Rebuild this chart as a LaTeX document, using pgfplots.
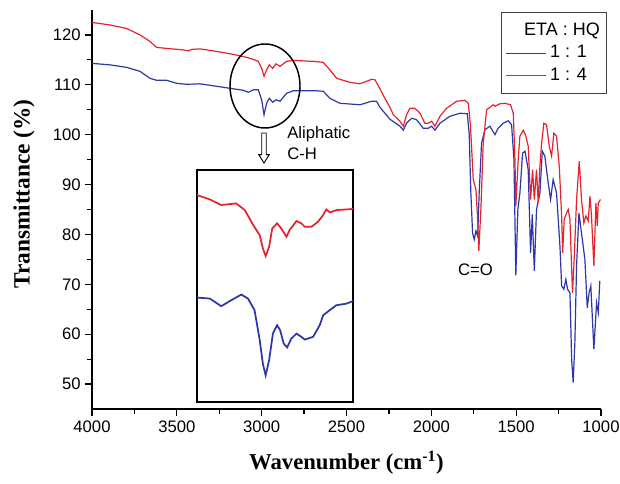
\documentclass[border=0pt]{standalone}
\usepackage{fontspec}
\setmainfont{Liberation Sans}
\newfontfamily\tnr{Liberation Serif}
\usepackage{pgfplots}
\pgfplotsset{compat=1.18}
\definecolor{cblue}{RGB}{45,55,170}
\definecolor{cred}{RGB}{230,35,45}

\pgfplotstableread{
wn T
4000 122.5
3894 122.0
3796 121.3
3717 120.0
3658 118.7
3619 117.5
3560 117.3
3462 117.0
3432 116.8
3413 117.1
3364 117.2
3265 116.7
3167 116.1
3088 115.5
3050 115.1
3020 114.7
3000 113.3
2986 111.7
2971 113.0
2955 114.0
2935 113.3
2916 114.2
2892 113.7
2853 114.7
2814 114.9
2696 114.7
2637 114.5
2598 113.0
2558 111.3
2480 110.5
2421 110.2
2352 111.1
2332 111.0
2303 109.2
2274 107.3
2244 105.5
2224 104.0
2185 102.7
2165 101.7
2146 104.0
2126 105.3
2097 105.3
2067 104.3
2038 102.3
2018 102.3
1998 102.7
1979 101.7
1949 103.7
1910 105.3
1851 106.7
1802 106.9
1782 106.3
1769 101.7
1753 91.0
1737 89.0
1727 83.0
1720 76.7
1708 85.0
1694 98.3
1674 105.0
1635 106.0
1625 105.7
1596 106.2
1566 106.3
1533 106.0
1517 104.3
1507 95.0
1502 85.7
1488 95.0
1478 99.7
1458 100.9
1445 100.0
1429 97.7
1415 87.0
1403 93.0
1393 87.0
1380 93.0
1370 86.3
1360 93.7
1350 98.3
1337 102.3
1321 102.0
1305 97.7
1291 95.7
1278 100.3
1262 99.7
1246 93.7
1232 83.7
1226 76.3
1217 83.0
1203 84.3
1193 85.0
1183 83.0
1168 68.3
1158 75.0
1144 87.0
1128 94.7
1115 87.0
1101 82.3
1089 83.7
1075 82.7
1065 87.7
1056 83.7
1042 73.7
1030 86.3
1022 81.7
1016 86.3
1003 87.0
}\redtab

\pgfplotstableread{
wn T
4000 114.3
3894 114.0
3796 113.5
3717 112.7
3658 111.3
3619 110.9
3560 110.9
3501 110.3
3442 110.1
3364 110.2
3265 109.7
3187 109.3
3108 108.9
3079 108.5
3049 109.0
3020 109.0
3000 107.0
2986 104.0
2971 106.3
2955 107.3
2935 106.5
2916 107.0
2892 106.7
2853 108.3
2814 108.8
2676 108.8
2637 108.7
2598 107.3
2539 106.3
2421 106.0
2352 106.7
2323 106.7
2303 105.5
2244 103.1
2185 101.7
2165 100.9
2146 102.3
2116 103.3
2087 103.0
2048 101.3
2018 101.3
1998 101.7
1979 100.9
1949 102.3
1890 103.7
1831 104.3
1788 104.2
1777 100.3
1767 88.3
1757 80.3
1747 79.0
1737 80.7
1727 79.7
1718 88.3
1704 98.3
1684 101.0
1655 101.7
1625 100.0
1606 101.3
1576 102.3
1547 102.8
1527 102.0
1513 95.0
1502 71.8
1490 85.0
1478 88.3
1462 96.3
1448 96.7
1429 93.0
1415 76.3
1405 84.0
1393 72.7
1380 85.0
1360 88.3
1346 96.7
1331 95.7
1311 90.3
1297 87.0
1282 91.0
1262 88.3
1242 77.7
1232 69.7
1219 69.0
1207 71.0
1197 69.0
1183 68.3
1173 55.0
1164 50.3
1154 58.3
1144 73.7
1130 84.3
1115 80.3
1095 75.0
1081 65.3
1070 68.3
1060 69.7
1042 57.0
1026 66.3
1016 64.3
1007 70.7
}\bluetab

\pgfplotstableread{
wn T
3180 89.2
3143 87.3
3110 84.9
3067 85.6
3042 82.7
3018 76.3
2999 71.9
2990 66.2
2982 62.9
2972 66.9
2963 74.8
2949 77.0
2937 74.8
2922 71.2
2913 74.1
2893 78.0
2879 77.0
2869 75.5
2850 75.5
2831 77.7
2816 80.6
2807 83.0
2797 81.7
2778 82.7
2730 83.2
}\redinset

\pgfplotstableread{
wn T
3180 45.0
3143 44.6
3110 41.3
3081 43.9
3052 46.3
3033 44.6
3014 39.6
2999 26.6
2990 16.5
2982 11.5
2972 18.0
2961 29.5
2949 33.1
2940 30.9
2930 25.2
2920 23.5
2908 27.3
2893 29.5
2879 28.1
2869 26.9
2845 28.1
2826 33.1
2816 37.4
2797 39.6
2778 41.7
2749 42.4
2730 43.5
}\blueinset

\begin{document}
\begin{tikzpicture}
\useasboundingbox (0pt,0pt) rectangle (465pt,363pt);
\begin{axis}[
  at={(69pt,56.25pt)}, anchor=south west,
  scale only axis, width=381.75pt, height=299.25pt,
  xmin=1000, xmax=4000, x dir=reverse,
  ymin=45, ymax=125,
  axis x line*=bottom, axis y line*=left,
  axis line style={line width=0.9pt, -},
  xtick={1000,1500,...,4000}, minor x tick num=1,
  ytick={50,60,...,120}, minor y tick num=1,
  tick align=outside, major tick length=5pt, minor tick length=4pt,
  every tick/.style={black, line width=0.9pt},
  tick label style={font=\fontsize{12.5}{14}\selectfont},
  /pgf/number format/assume math mode=true,
  /pgf/number format/1000 sep={},
  xlabel={\tnr\bfseries Wavenumber (cm\textsuperscript{-1})},
  xlabel style={font=\fontsize{17}{20}\selectfont, at={(axis description cs:0.5,-0.135)}, anchor=center},
  ylabel={\tnr\bfseries Transmittance (\%)},
  ylabel style={font=\fontsize{17.5}{20}\selectfont, at={(axis description cs:-0.1336,0.539)}, anchor=center, rotate=0},
  legend style={at={(1.012,0.995)}, anchor=north east, draw=black!75, line width=0.8pt,
    font=\fontsize{13.5}{16}\selectfont, inner xsep=3pt, inner ysep=5pt,
    nodes={inner sep=2pt, text height=10pt, text depth=3pt}, row sep=0pt, column sep=0.5pt},
  legend cell align=left,
  legend image code/.code={\draw[#1] (0pt,0pt) -- (30pt,0pt);},
]
\addlegendimage{empty legend}
\addlegendentry{\hspace*{-19.5pt}ETA : HQ}
\addplot[cblue, line width=0.9pt] table[x=wn, y=T] {\bluetab};
\addlegendentry{1 : 1}
\addplot[cred, line width=0.9pt] table[x=wn, y=T] {\redtab};
\addlegendentry{1 : 4}
\end{axis}

\begin{axis}[
  at={(147.75pt,61.5pt)}, anchor=south west,
  scale only axis, width=117pt, height=174pt,
  xmin=2730, xmax=3180, x dir=reverse,
  ymin=0, ymax=100,
  ticks=none,
  axis line style={line width=1.2pt, black},
  axis background/.style={fill=white},
]
\addplot[cred, line width=1.3pt] table[x=wn, y=T] {\redinset};
\addplot[cblue, line width=1.3pt] table[x=wn, y=T] {\blueinset};
\end{axis}

\draw[line width=1.1pt] (198.75pt,298.5pt) ellipse [x radius=26.25pt, y radius=31.5pt];
\draw[line width=0.7pt, fill=white] (196.3pt,263.25pt) -- (199.7pt,263.25pt) -- (199.7pt,247pt) -- (201.9pt,247pt) -- (198pt,240.75pt) -- (194.1pt,247pt) -- (196.3pt,247pt) -- cycle;
\node[anchor=west, align=left, font=\fontsize{12.5}{15.75}\selectfont, inner sep=0pt] at (215.25pt,256pt) {Aliphatic\\C-H};
\node[font=\fontsize{12.5}{15}\selectfont, inner sep=0pt] at (356.6pt,160.9pt) {C=O};
\end{tikzpicture}
\end{document}
